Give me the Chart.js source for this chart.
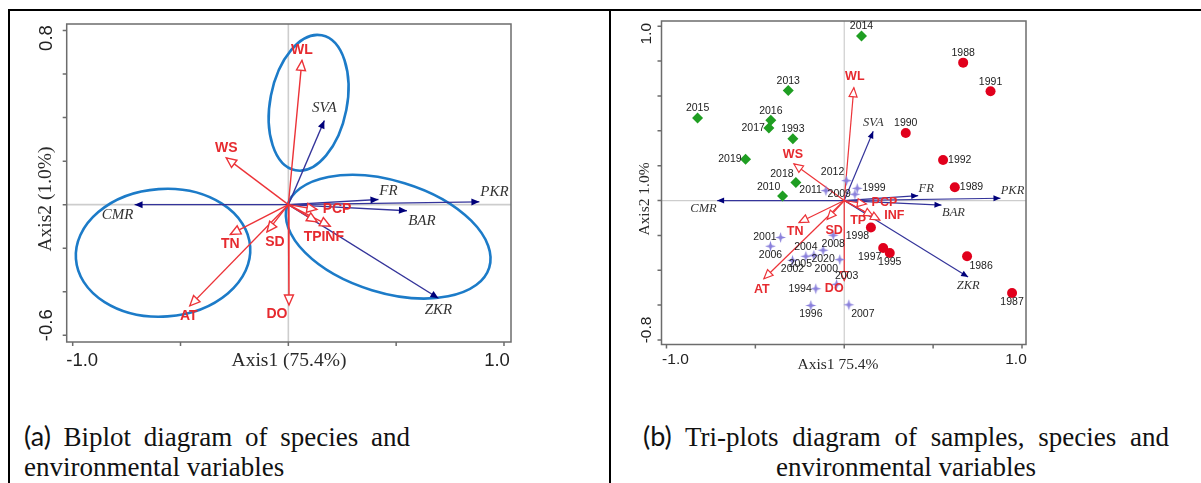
<!DOCTYPE html>
<html><head><meta charset="utf-8">
<script src="https://cdn.jsdelivr.net/npm/chart.js@4/dist/chart.umd.min.js"></script>
<style>
html,body{margin:0;padding:0;background:#fff;width:1201px;height:483px;overflow:hidden;position:relative}
canvas{position:absolute;top:0}
.hl{position:absolute;background:#000;z-index:5}
.cap{position:absolute;font-family:"Liberation Serif","Times New Roman",serif;font-size:27px;line-height:30px;color:#111;white-space:nowrap}
.cap .s{font-family:Lato,"Open Sans",sans-serif}
</style></head><body>
<canvas id="cA" width="610" height="380" style="left:0"></canvas>
<canvas id="cB" width="591" height="380" style="left:610px"></canvas>
<div class="hl" style="left:8px;top:9px;width:1193px;height:2px"></div>
<div class="hl" style="left:8px;top:9px;width:2px;height:474px"></div>
<div class="hl" style="left:609px;top:9px;width:2px;height:474px"></div>
<div class="cap" style="left:24px;top:421px"><span style="word-spacing:6px"><span class="s">(a)</span> Biplot diagram of species and</span><br>environmental variables</div>
<div class="cap" style="left:611px;top:421px;width:590px;text-align:center"><span style="word-spacing:7px"><span class="s">(b)</span> Tri-plots diagram of samples, species and</span><br>environmental variables</div>
<script>
// ---------- DATA ----------
const speciesNames = ['CMR','PKR','FR','BAR','ZKR','SVA'];
const envNames = ['WL','WS','TN','SD','AT','DO','PCP','TP','INF'];

// panel (a) biplot
const speciesA_x = [-0.713, 0.886, 0.418, 0.550, 0.696, 0.167];
const speciesA_y = [0.000, 0.013, 0.024, -0.028, -0.430, 0.387];
const envA_x = [0.063, -0.288, -0.269, -0.099, -0.457, 0.003, 0.133, 0.133, 0.194];
const envA_y = [0.663, 0.215, -0.137, -0.125, -0.465, -0.461, -0.022, -0.079, -0.099];
const ellipseCX = [0.094, -0.581, 0.463];
const ellipseCY = [0.468, -0.221, -0.147];
const ellipseRX = [0.178, 0.405, 0.490];
const ellipseRY = [0.316, 0.293, 0.257];
const ellipseRot = [11, -4, 17];

// panel (b) tri-plot
const speciesB_x = [-0.715, 0.879, 0.416, 0.547, 0.697, 0.163];
const speciesB_y = [0.000, 0.013, 0.028, -0.026, -0.439, 0.397];
const envB_x = [0.054, -0.283, -0.254, -0.096, -0.452, 0.000, 0.125, 0.163, 0.200];
const envB_y = [0.647, 0.210, -0.126, -0.108, -0.449, -0.459, -0.020, -0.090, -0.112];

const redYears = ['1988','1991','1990','1992','1989','1998','1997','1995','1986','1987'];
const redX = [0.669, 0.823, 0.346, 0.556, 0.622, 0.150, 0.219, 0.256, 0.691, 0.944];
const redY = [0.791, 0.627, 0.387, 0.233, 0.076, -0.155, -0.272, -0.301, -0.320, -0.531];

const greenYears = ['2014','2013','2015','2016','2017','1993','2019','2018','2010'];
const greenX = [0.097, -0.315, -0.825, -0.413, -0.424, -0.289, -0.555, -0.272, -0.347];
const greenY = [0.944, 0.631, 0.474, 0.460, 0.416, 0.354, 0.237, 0.103, 0.026];

const starYears = ['2012','1999','2009','2011','2008','2001','2006','2004','2005','2002','2020','2000','2003','1994','1996','2007'];
const starX = [0.013, 0.073, 0.060, -0.103, -0.062, -0.358, -0.415, -0.216, -0.171, -0.291, -0.119, -0.025, -0.043, -0.160, -0.188, 0.026];
const starY = [0.114, 0.070, 0.036, 0.057, -0.199, -0.212, -0.262, -0.320, -0.314, -0.343, -0.285, -0.339, -0.481, -0.506, -0.602, -0.598];

// axis ticks
const xTicks = [-1.0, -0.5, 0, 0.5, 1.0];
const xTickLabels = ['-1.0', '1.0'];
const xTickLabelVals = [-1.0, 1.0];
const yTicksA = [-0.6, -0.4, -0.2, 0, 0.2, 0.4, 0.6, 0.8];
const yTickLabelsA = ['0.8', '-0.6'];
const yTickLabelValsA = [0.8, -0.6];
const yTicksB = [-0.8, -0.6, -0.4, -0.2, 0, 0.2, 0.4, 0.6, 0.8, 1.0];
const yTickLabelsB = ['1.0', '-0.8'];
const yTickLabelValsB = [1.0, -0.8];

// ---------- label layout (styles) ----------
const spLabOffA = [[-17,10],[15,-9.4],[10,-8.6],[15,10],[0,12],[0,-12.7]];
const envLabOffA = [[0,-10],[0,-10],[0,10],[8,10.5],[-1,10],[-12,9.3],[20,0],[-4.4,15.6],[2.5,11.3]];
const spLabOffB = [[-13.6,8],[12,-7.6],[8,-7.4],[12,8],[0,8.5],[0,-9]];
const envLabOffB = [[1,-11],[-1,-9],[-4,9],[7,11],[-2,11],[-10,8],[18,-1],[-15,4],[14.5,-5]];
const redPos = ['a','a','a','r','r','bl','bl','b','br','b'];
const greenPos = ['a','a','a','a','l','a','l','al','al'];
const starPos = ['al','r','l','l','b','l','b','a','bl','b','b','bl','ar','l','b','br'];

const SP_LINE = '#34349a', SP_HEAD = '#00007a', ENV = '#ec3338', ENV_TXT = '#e62a2f';

function pts(xs, ys){ return xs.map((v,i)=>({x:v, y:ys[i]})); }
function arrowSets(xs, ys, names, color, kind, w){
  return names.map((n,i)=>({type:'line', label:n, data:[{x:0,y:0},{x:xs[i],y:ys[i]}],
    borderColor:color, borderWidth:w, pointRadius:0, fill:false, tension:0, arrowKind:kind, arrowIdx:i}));
}
function makeStar(r, color){
  const s = Math.ceil(r*2+2), c = document.createElement('canvas'); c.width = s; c.height = s;
  const g = c.getContext('2d'), m = s/2; g.fillStyle = color; g.beginPath();
  for (let i=0;i<8;i++){ const a=-Math.PI/2+i*Math.PI/4, rr = i%2===0 ? r : r*0.33; g.lineTo(m+rr*Math.cos(a), m+rr*Math.sin(a)); }
  g.closePath(); g.fill(); return c;
}
function txt(ctx, s, x, y, font, color, rot, align){
  ctx.save(); ctx.translate(x,y); if (rot) ctx.rotate(rot);
  ctx.font = font; ctx.fillStyle = color; ctx.textAlign = align || 'center'; ctx.textBaseline = 'middle';
  ctx.fillText(s, 0, 0); ctx.restore();
}
const PLACE = {a:[0,-9.5,'center'], b:[0,9,'center'], l:[-4,0,'right'], r:[5,0,'left'],
  al:[-14,-8.5,'center'], bl:[-13.5,9,'center'], br:[14,9.5,'center'], ar:[10,-8.5,'center']};

const biplot = {
  id: 'biplot',
  beforeDatasetsDraw(chart, args, o){
    const {ctx, chartArea: ca, scales: {x, y}} = chart;
    ctx.save();
    const x0 = x.getPixelForValue(0), y0 = y.getPixelForValue(0);
    ctx.strokeStyle = '#cdcdcd'; ctx.lineWidth = o.zeroW;
    ctx.beginPath(); ctx.moveTo(x0, ca.top); ctx.lineTo(x0, ca.bottom);
    ctx.moveTo(ca.left, y0); ctx.lineTo(ca.right, y0); ctx.stroke();
    ctx.strokeStyle = '#6c6c6c'; ctx.lineWidth = 1.5;
    ctx.strokeRect(ca.left, ca.top, ca.right - ca.left, ca.bottom - ca.top);
    ctx.beginPath();
    o.xTicks.forEach(v=>{ const p = x.getPixelForValue(v); ctx.moveTo(p, ca.bottom); ctx.lineTo(p, ca.bottom + 4); });
    o.yTicks.forEach(v=>{ const p = y.getPixelForValue(v); ctx.moveTo(ca.left, p); ctx.lineTo(ca.left - 4, p); });
    ctx.stroke();
    o.xLabels.forEach((s,i)=> txt(ctx, s, x.getPixelForValue(o.xLabelVals[i]) + o.xNudge[i], ca.bottom + o.xLabDy, o.tickFont, '#222'));
    o.yLabels.forEach((s,i)=> txt(ctx, s, ca.left - o.yLabDx, y.getPixelForValue(o.yLabelVals[i]) + o.yNudge[i], o.tickFont, '#222', -Math.PI/2));
    txt(ctx, o.xTitle, o.xTitlePos[0], o.xTitlePos[1], o.titleFont, '#2a2a2a');
    txt(ctx, o.yTitle, o.yTitlePos[0], o.yTitlePos[1], o.titleFont, '#2a2a2a', -Math.PI/2);
    if (o.ellipses){
      ctx.strokeStyle = '#1c7bc8'; ctx.lineWidth = 2.6;
      o.ellipses.cx.forEach((cx,i)=>{
        const cy = o.ellipses.cy[i];
        const px = x.getPixelForValue(cx), py = y.getPixelForValue(cy);
        const rx = Math.abs(x.getPixelForValue(cx + o.ellipses.rx[i]) - px);
        const ry = Math.abs(y.getPixelForValue(cy + o.ellipses.ry[i]) - py);
        ctx.beginPath(); ctx.ellipse(px, py, rx, ry, o.ellipses.rot[i]*Math.PI/180, 0, Math.PI*2); ctx.stroke();
      });
    }
    ctx.restore();
  },
  afterDatasetsDraw(chart, args, o){
    const ctx = chart.ctx;
    ctx.save();
    chart.data.datasets.forEach((ds, di)=>{
      if (!ds.arrowKind) return;
      const meta = chart.getDatasetMeta(di);
      const p0 = meta.data[0], p1 = meta.data[1];
      const ang = Math.atan2(p1.y - p0.y, p1.x - p0.x);
      const ca = Math.cos(ang), sa = Math.sin(ang);
      if (ds.arrowKind === 'sp'){
        const L = o.spHead[0], W = o.spHead[1];
        ctx.fillStyle = SP_HEAD; ctx.beginPath();
        ctx.moveTo(p1.x, p1.y);
        ctx.lineTo(p1.x - L*ca - W*sa, p1.y - L*sa + W*ca);
        ctx.lineTo(p1.x - L*ca + W*sa, p1.y - L*sa - W*ca);
        ctx.closePath(); ctx.fill();
        const off = o.spOff[ds.arrowIdx];
        txt(ctx, ds.label, p1.x + off[0], p1.y + off[1], o.spFont, '#333');
      } else {
        const L = o.envHead[0], W = o.envHead[1];
        ctx.fillStyle = '#fff'; ctx.strokeStyle = ENV; ctx.lineWidth = o.envW; ctx.beginPath();
        ctx.moveTo(p1.x, p1.y);
        ctx.lineTo(p1.x - L*ca - W*sa, p1.y - L*sa + W*ca);
        ctx.lineTo(p1.x - L*ca + W*sa, p1.y - L*sa - W*ca);
        ctx.closePath(); ctx.fill(); ctx.stroke();
        const off = o.envOff[ds.arrowIdx];
        txt(ctx, ds.label, p1.x + off[0], p1.y + off[1], o.envFont, ENV_TXT);
      }
    });
    if (o.samples){
      o.samples.forEach(g=>{
        const meta = chart.getDatasetMeta(g.ds);
        meta.data.forEach((pt, i)=>{
          const pl = PLACE[g.pos[i]];
          txt(ctx, g.names[i], pt.x + pl[0], pt.y + pl[1], '10.5px "Liberation Sans", Arial, sans-serif', '#222', 0, pl[2]);
        });
      });
    }
    ctx.restore();
  }
};

function baseOptions(pad, xr, yr, plug){
  return {
    responsive: false, animation: false, events: [],
    layout: {padding: pad},
    scales: {
      x: {type:'linear', min:xr[0], max:xr[1], display:false},
      y: {type:'linear', min:yr[0], max:yr[1], display:false}
    },
    plugins: {legend:{display:false}, tooltip:{enabled:false}, title:{display:false}, biplot: plug}
  };
}

// ---------- panel (a) ----------
new Chart(document.getElementById('cA'), {
  type: 'line',
  data: { datasets: [
    ...arrowSets(envA_x, envA_y, envNames, ENV, 'env', 1.4),
    ...arrowSets(speciesA_x, speciesA_y, speciesNames, SP_LINE, 'sp', 1.4)
  ]},
  options: baseOptions({left:66.7, top:24, right:99, bottom:38}, [-1.0278, 1.0325], [-0.631, 0.830], {
    zeroW: 1.6, xTicks: xTicks, yTicks: yTicksA,
    xLabels: xTickLabels, xLabelVals: xTickLabelVals, xNudge: [9.5, -7], xLabDy: 19,
    yLabels: yTickLabelsA, yLabelVals: yTickLabelValsA, yNudge: [7.5, -10], yLabDx: 19.5,
    tickFont: '18.5px "Liberation Sans", Arial, sans-serif',
    titleFont: '19.5px "Liberation Serif", "Times New Roman", serif',
    xTitle: 'Axis1 (75.4%)', xTitlePos: [289, 361], yTitle: 'Axis2 (1.0%)', yTitlePos: [46, 199],
    ellipses: {cx: ellipseCX, cy: ellipseCY, rx: ellipseRX, ry: ellipseRY, rot: ellipseRot},
    spHead: [8, 3.5], envHead: [10, 4.5], envW: 1.4,
    spOff: spLabOffA, envOff: envLabOffA,
    spFont: 'italic 15px "Liberation Serif", "Times New Roman", serif',
    envFont: 'bold 14px "Liberation Sans", Arial, sans-serif'
  })
, plugins: [biplot]});

// ---------- panel (b) ----------
const starImg = makeStar(5.5, '#8a80dc');
new Chart(document.getElementById('cB'), {
  type: 'line',
  data: { datasets: [
    {type:'scatter', label:'dry', data: pts(redX, redY), pointStyle:'circle', pointRadius:5, backgroundColor:'#e1001c', borderColor:'#e1001c', borderWidth:0, showLine:false},
    {type:'scatter', label:'wet', data: pts(greenX, greenY), pointStyle:'rectRot', pointRadius:5.5, backgroundColor:'#1f9e22', borderColor:'#1f9e22', borderWidth:0, showLine:false},
    {type:'scatter', label:'mid', data: pts(starX, starY), pointStyle: starImg, pointRadius:5.5, backgroundColor:'#8a80dc', borderColor:'#8a80dc', showLine:false},
    ...arrowSets(envB_x, envB_y, envNames, ENV, 'env', 1.2),
    ...arrowSets(speciesB_x, speciesB_y, speciesNames, SP_LINE, 'sp', 1.2)
  ]},
  options: baseOptions({left:51.5, top:21, right:175, bottom:35.5}, [-1.028, 1.0225], [-0.826, 1.030], {
    zeroW: 1.2, xTicks: xTicks, yTicks: yTicksB,
    xLabels: xTickLabels, xLabelVals: xTickLabelVals, xNudge: [9, -6], xLabDy: 15,
    yLabels: yTickLabelsB, yLabelVals: yTickLabelValsB, yNudge: [7.5, -10], yLabDx: 14.5,
    tickFont: '15.5px "Liberation Sans", Arial, sans-serif',
    titleFont: '15.5px "Liberation Serif", "Times New Roman", serif',
    xTitle: 'Axis1 75.4%', xTitlePos: [228, 365], yTitle: 'Axis2 1.0%', yTitlePos: [35, 199],
    spHead: [7, 3], envHead: [9, 4], envW: 1.2,
    spOff: spLabOffB, envOff: envLabOffB,
    spFont: 'italic 12.5px "Liberation Serif", "Times New Roman", serif',
    envFont: 'bold 12.5px "Liberation Sans", Arial, sans-serif',
    samples: [
      {ds: 0, names: redYears, pos: redPos},
      {ds: 1, names: greenYears, pos: greenPos},
      {ds: 2, names: starYears, pos: starPos}
    ]
  })
, plugins: [biplot]});
</script>
</body></html>
